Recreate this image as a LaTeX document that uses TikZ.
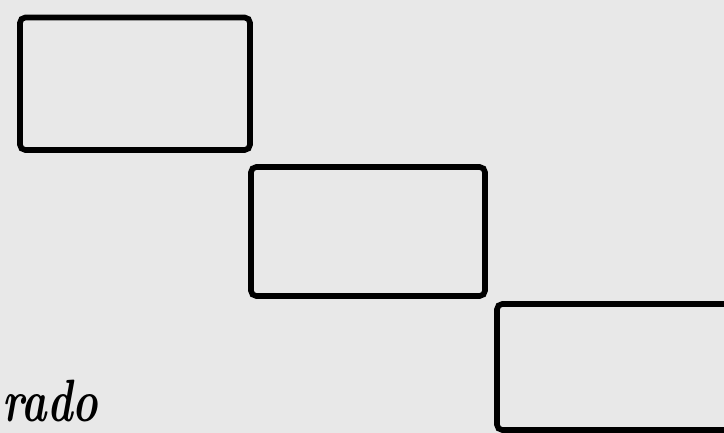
\documentclass[tikz,border=0pt]{standalone}
\usepackage{xcolor}
\usetikzlibrary{positioning}
\definecolor{papier}{HTML}{E8E8E8}
\tikzset{casier/.style={draw,line width=1.6pt,rounded corners=1.5pt,inner sep=0pt}}

\begin{document}
\begin{tikzpicture}
    \fill[papier] (0,0) rectangle (7.24,4.33);
    \useasboundingbox (0,0) rectangle (7.24,4.33);
    \clip (0,0) rectangle (7.24,4.33);
    % three boxes, stepping down
    \node[casier,minimum width=2.30cm,minimum height=1.325cm] (b1) at (1.35,3.4925) {};
    \node[casier,minimum width=2.34cm,minimum height=1.29cm] (b2) at (3.68,2.015) {};
    \node[casier,minimum width=2.33cm,minimum height=1.26cm] (b3) at (6.135,0.66) {};
    \node[anchor=base west,inner sep=0pt,font=\fontsize{17}{19}\selectfont\bfseries\itshape] (lab) at (0.02,0.11) {\scalebox{0.72}[1]{rado}};
\end{tikzpicture}
\end{document}
